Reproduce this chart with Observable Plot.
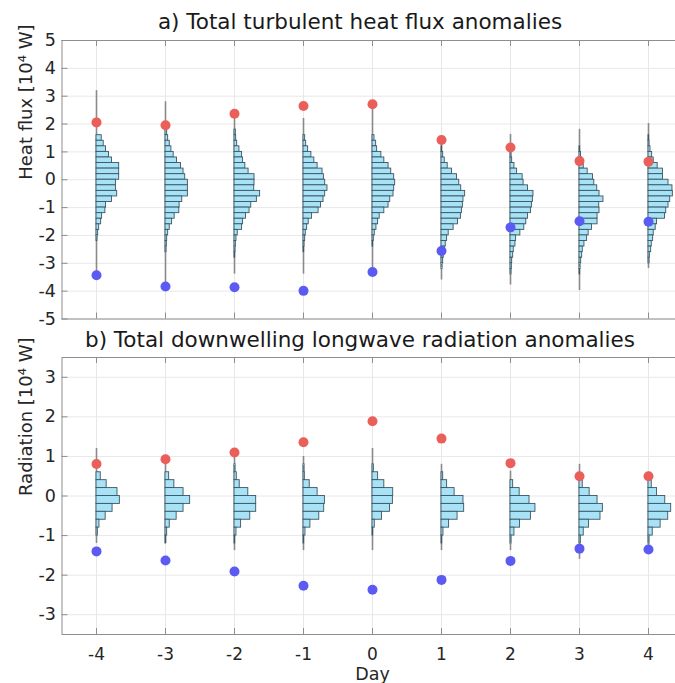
<!DOCTYPE html>
<html><head><meta charset="utf-8">
<script src="https://cdn.jsdelivr.net/npm/d3@7"></script>
<script src="https://cdn.jsdelivr.net/npm/@observablehq/plot@0.6"></script>
<style>
html,body{margin:0;padding:0;background:#fff;overflow:hidden;}
#wrap{position:relative;width:675px;height:683px;overflow:hidden;font-family:"DejaVu Sans",sans-serif;}
.title{position:absolute;left:0;width:720px;text-align:center;font-size:21.5px;color:#1a1a1a;z-index:2;line-height:1;}
.panel{position:absolute;left:0;width:683px;}
.panel svg{max-width:none !important;}
</style></head><body>
<div id="wrap">
  <div class="panel" id="pa" style="top:0"></div>
  <div class="panel" id="pb" style="top:330px"></div>
  <div class="title" style="top:11px">a) Total turbulent heat flux anomalies</div>
  <div class="title" style="top:329px">b) Total downwelling longwave radiation anomalies</div>
</div>
<script>
// ---------- data ----------
const days = [-4, -3, -2, -1, 0, 1, 2, 3, 4];
const dayTicks = [-4, -3, -2, -1, 0, 1, 2, 3, 4];

// Panel a: turbulent heat flux anomalies [10^4 W]
const heatTicks = [-5, -4, -3, -2, -1, 0, 1, 2, 3, 4, 5];
const heatBinWidth = 0.2;
const heatHistTop = [1.6, 1.8, 1.8, 1.6, 1.6, 1.2, 1.0, 1.2, 1.6];
const heatHistCounts = [
  [5.3,7.3,9.7,12.7,15.7,23,23,23,19.7,19.7,21,15.7,9.7,9,5.7,4.7,2.7,1.7,1],
  [1.7,2.7,4.3,6,8.3,11.7,15.7,18.3,20,22.7,22.7,22.7,17,14.3,14,9.3,6.7,4.3,2.7,1.7,1.3,1],
  [1.3,1.7,2.7,5,7.7,8.7,11,14.3,20.3,20.3,20,26,22.7,17,15.3,11.7,8.7,7.7,3.3,2,1.3,1,0.7],
  [1.7,2.7,4.7,8,11,14.3,19.3,20.7,22,24.3,22,20.3,17.7,15.3,8.7,5.3,3.7,2.3,1.7,1,0.7],
  [2,3.7,4.7,9,12,16.3,19,22,23,22,21.3,18,16.3,12,7.3,5.7,4,2.3,1.3,0.7],
  [0.7,1.7,3.3,6.3,10.7,15.7,18,20,24,22.3,21.7,20.7,19.7,16.7,12.3,7.3,5.7,4.3,3.3,2.3,1.7,1],
  [1,1.7,4,6.7,12.3,13.3,17.7,23.3,22.7,21.7,20.7,17.7,16,14,10,5.7,5,3.3,2.7,1.7,1.3,1],
  [0.7,1.5,2.5,4.3,8.3,13.7,15,18,20.3,24.3,20,20.3,18.3,18.3,12.7,9.3,7.7,5,3.3,2.7,1.7,1,0.7],
  [0.7,1,2,3.7,5.3,9.3,14.7,14.7,20.3,24.3,24.7,22,20.3,18,16.7,8.7,7.3,5.3,4.7,3.3,2.7,1.3,1]
];
const heatRangeMax = [3.2, 2.8, 2.24, 2.2, 2.54, 1.43, 1.63, 1.81, 2.02];
const heatRangeMin = [-3.35, -3.7, -3.39, -3.39, -3.15, -3.6, -3.78, -3.98, -3.19];
const heatRed  = [2.06, 1.96, 2.37, 2.65, 2.71, 1.43, 1.16, 0.67, 0.65];
const heatBlue = [-3.43, -3.83, -3.86, -3.99, -3.31, -2.56, -1.71, -1.49, -1.51];

// Panel b: downwelling longwave radiation anomalies [10^4 W]
const radTicks = [-3, -2, -1, 0, 1, 2, 3];
const radBinWidth = 0.2;
const radHistTop = [0.6, 0.6, 0.8, 0.8, 0.8, 0.6, 0.4, 0.4, 0.4];
const radHistCounts = [
  [4.3,10.3,21.3,23.7,16.3,9.3,3,1.3],
  [3.7,9,18.3,25,18.3,11.3,4.3,1.7,0.7],
  [1,2.3,5.3,14,22,22,16,6.7,2,0.7],
  [1,1.3,6.3,14.3,21.7,21,16,7,2,0.7],
  [1.3,5.7,12,21,20.7,17.7,9.7,2.3,0.7],
  [1.7,5.7,13.3,22.3,23,16.3,7.7,2,0.7],
  [2.7,9.3,19.3,25.3,20.7,9.7,4,1],
  [3.3,10.3,18.3,23.7,21.3,9.7,4.3,1.3],
  [3.3,8.7,17,23,20,12.3,4.3,1]
];
const radRangeMax = [1.2, 0.9, 1.0, 1.0, 1.2, 0.8, 0.63, 0.8, 0.6];
const radRangeMin = [-1.2, -1.2, -1.38, -1.38, -1.38, -1.38, -1.38, -1.6, -1.47];
const radRed  = [0.81, 0.93, 1.10, 1.36, 1.89, 1.45, 0.83, 0.50, 0.50];
const radBlue = [-1.40, -1.63, -1.91, -2.27, -2.37, -2.12, -1.64, -1.33, -1.35];

// ---------- drawing ----------
const countToDays = 1 / 70; // horizontal extent of one count unit, in days
const FONT = "DejaVu Sans";
const gridColor = "#e8e8e8", frameColor = "#8e8e8e";
const barFill = "#a8e2f6", barStroke = "#3a5663";
const redC = "#ea5f59", blueC = "#5b5bf4";

function bins(top, counts, w) {
  return days.flatMap((d, i) => counts[i].map((c, j) => ({
    day: d, y2: +(top[i] - j * w).toFixed(3), y1: +(top[i] - (j + 1) * w).toFixed(3), count: c
  })));
}
const pts = (vals) => days.map((d, i) => ({day: d, v: vals[i]}));
const ranges = (lo, hi) => days.map((d, i) => ({day: d, lo: lo[i], hi: hi[i]}));

function panel({height, mt, mb, ydomain, yticks, hist, rMin, rMax, red, blue, ylabel, showX}) {
  const W = 683, ML = 61.5, MR = 0.5;
  const plotW = W - ML - MR, plotH = height - mt - mb;
  const marks = [
    Plot.gridX(dayTicks, {stroke: gridColor, strokeOpacity: 1}),
    Plot.gridY(yticks, {stroke: gridColor, strokeOpacity: 1}),
    Plot.ruleX(ranges(rMin, rMax), {x: "day", y1: "lo", y2: "hi", stroke: "#8a8a8a", strokeWidth: 1.6}),
    Plot.rect(hist, {x1: "day", x2: d => d.day + d.count * countToDays, y1: "y1", y2: "y2",
      fill: barFill, stroke: barStroke, strokeWidth: 0.9}),
    Plot.dot(pts(red), {x: "day", y: "v", r: 5, fill: redC}),
    Plot.dot(pts(blue), {x: "day", y: "v", r: 5, fill: blueC}),
    Plot.frame({stroke: frameColor, strokeWidth: 1}),
    // inward tick marks (MATLAB style)
    Plot.tickY(yticks, {y: d => d, insetRight: plotW - 6, stroke: frameColor}),
    Plot.tickX(dayTicks, {x: d => d, insetBottom: plotH - 6, stroke: frameColor}),
    Plot.tickX(dayTicks, {x: d => d, insetTop: plotH - 6, stroke: frameColor}),
    Plot.axisY(yticks, {tickSize: 0, tickPadding: 6, fontSize: 17.5, tickFormat: d => String(d), label: null, fill: "#262626"}),
    Plot.text([ylabel], {frameAnchor: "left", text: d => d, rotate: -90, dx: -36, fontSize: 18, fill: "#262626"})
  ];
  if (showX) {
    marks.push(Plot.axisX(dayTicks, {tickSize: 0, tickPadding: 13, fontSize: 17, tickFormat: d => String(d), label: null, fill: "#262626"}));
    marks.push(Plot.text(["Day"], {frameAnchor: "bottom", text: d => d, dy: 45, fontSize: 17.5, fill: "#262626"}));
  } else {
    marks.push(Plot.axisX({ticks: [], label: null}));
  }
  return Plot.plot({
    width: W, height, marginLeft: ML, marginRight: MR, marginTop: mt, marginBottom: mb,
    style: {fontFamily: FONT, background: "transparent", overflow: "visible", maxWidth: "none"},
    x: {domain: [-4.5, 4.5]},
    y: {domain: ydomain},
    marks
  });
}

document.getElementById("pa").append(panel({
  height: 330, mt: 40, mb: 11.5, ydomain: [-5, 5], yticks: heatTicks,
  hist: bins(heatHistTop, heatHistCounts, heatBinWidth),
  rMin: heatRangeMin, rMax: heatRangeMax, red: heatRed, blue: heatBlue,
  ylabel: "Heat flux [10⁴ W]", showX: false
}));
document.getElementById("pb").append(panel({
  height: 353, mt: 27, mb: 49, ydomain: [-3.5, 3.5], yticks: radTicks,
  hist: bins(radHistTop, radHistCounts, radBinWidth),
  rMin: radRangeMin, rMax: radRangeMax, red: radRed, blue: radBlue,
  ylabel: "Radiation [10⁴ W]", showX: true
}));
</script>
</body></html>
